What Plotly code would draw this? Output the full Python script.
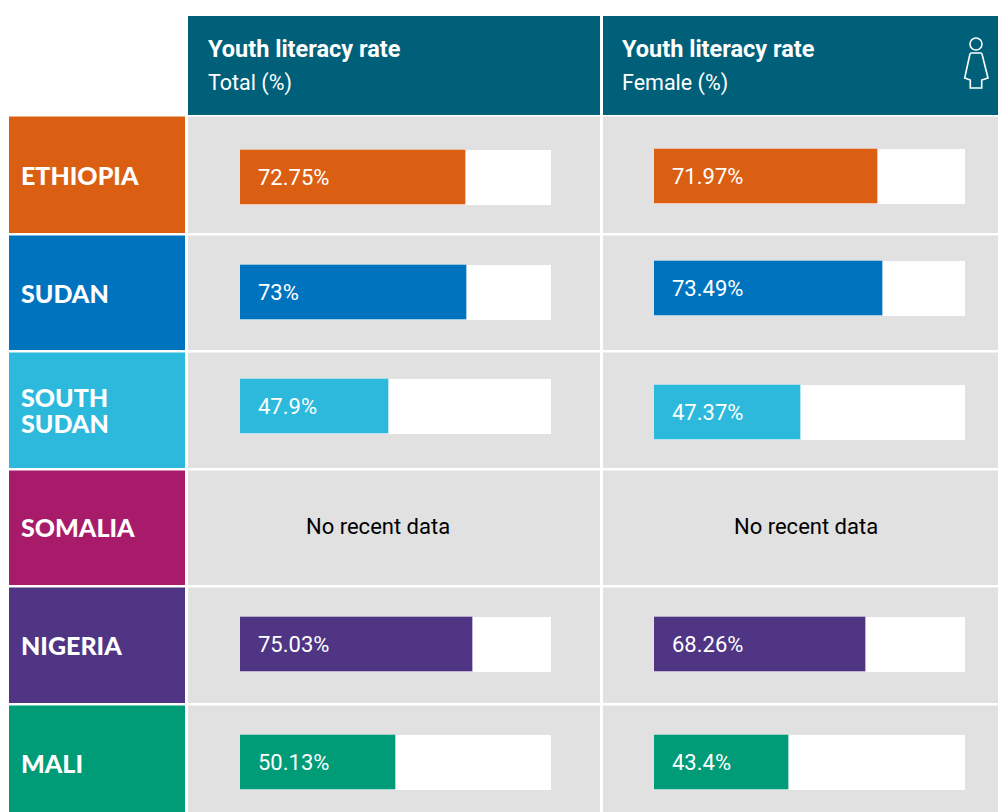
import plotly.graph_objects as go

W, H = 998, 812

# Data
countries = [["ETHIOPIA"], ["SUDAN"], ["SOUTH", "SUDAN"], ["SOMALIA"], ["NIGERIA"], ["MALI"]]
total_values = [72.75, 73, 47.9, None, 75.03, 50.13]
female_values = [71.97, 73.49, 47.37, None, 68.26, 43.4]
total_labels = ["72.75%", "73%", "47.9%", "No recent data", "75.03%", "50.13%"]
female_labels = ["71.97%", "73.49%", "47.37%", "No recent data", "68.26%", "43.4%"]
headers = [("Youth literacy rate", "Total (%)"), ("Youth literacy rate", "Female (%)")]

# Layout and style (pixels)
colors = ["#db5f13", "#0073bf", "#2cb9dc", "#a81b6a", "#4f3583", "#009b77"]
HEADER = "#00607a"
GREY = "#e1e1e1"
row_tops = [116.5, 235.5, 352.5, 470.5, 587.5, 705.5]
row_bottoms = [233, 350, 468, 585, 703, 812]
label_y = [175, 293, 410, 527, 645, 763]
total_y = [177.5, 292.5, 406.5, 526, 644.5, 762.5]
female_y = [176, 288.5, 412.5, 526, 644.5, 762.5]
BAR_H = 55
LINE_GAP = 26
col_left = (188, 600)
col_right = (603, 998)
nodata_x = (378, 806)
FONT = "Roboto"
LABEL_FONT = "Lato"

fig = go.Figure()


def add_bars(values, ys, xa):
    rows = [i for i, v in enumerate(values) if v is not None]
    fig.add_trace(go.Bar(
        x=[100] * len(rows), y=[ys[i] for i in rows], orientation="h",
        width=BAR_H, marker=dict(color="white", line=dict(width=0)),
        xaxis=xa, yaxis="y", hoverinfo="skip", showlegend=False))
    fig.add_trace(go.Bar(
        x=[values[i] for i in rows], y=[ys[i] for i in rows], orientation="h",
        width=BAR_H, marker=dict(color=[colors[i] for i in rows],
                                 line=dict(width=1, color="rgba(255,255,255,0.3)")),
        xaxis=xa, yaxis="y", showlegend=False))


add_bars(total_values, total_y, "x")
add_bars(female_values, female_y, "x2")

shapes = []
annotations = []


def rect(x0, x1, y0, y1, color):
    shapes.append(dict(type="rect", xref="paper", yref="paper",
                       x0=x0 / W, x1=x1 / W, y0=1 - y0 / H, y1=1 - y1 / H,
                       fillcolor=color, line=dict(width=0), layer="below"))


def text(x, y, s, size, color="white", xanchor="left", xref="x3", xshift=0, weight=400, family=FONT):
    annotations.append(dict(x=x, y=y, xref=xref, yref="y", text=s, showarrow=False,
                            xanchor=xanchor, yanchor="middle", xshift=xshift,
                            font=dict(family=family, size=size, color=color, weight=weight)))


for col, hdr, tx in ((col_left, headers[0], 206), (col_right, headers[1], 620)):
    rect(col[0], col[1], 16, 115, HEADER)
    text(tx, 49, hdr[0], 23.5, weight=700)
    text(tx, 83, hdr[1], 21.5)

for i, lines in enumerate(countries):
    rect(9, 185, row_tops[i], row_bottoms[i], colors[i])
    rect(*col_left, row_tops[i], row_bottoms[i], GREY)
    rect(*col_right, row_tops[i], row_bottoms[i], GREY)
    start = label_y[i] - (len(lines) - 1) * LINE_GAP / 2
    for k, line in enumerate(lines):
        text(19, start + k * LINE_GAP, line, 25, weight=900, family=LABEL_FONT)
    if total_values[i] is None:
        text(nodata_x[0], label_y[i] - 1, total_labels[i], 22, color="black", xanchor="center")
        text(nodata_x[1], label_y[i] - 1, female_labels[i], 22, color="black", xanchor="center")
    else:
        text(0, total_y[i], total_labels[i], 22, xref="x", xshift=16)
        text(0, female_y[i], female_labels[i], 22, xref="x2", xshift=16)

# Female icon
shapes.append(dict(type="circle", xref="x3", yref="y", x0=970, x1=982, y0=38, y1=50,
                   line=dict(color="white", width=1.6), layer="above"))
shapes.append(dict(type="path", xref="x3", yref="y",
                   path="M971,53 L981,53 Q982,53 982.5,56 L988,78 L981.7,80 L981.7,88 L970.3,88 L970.3,80 L964.7,78 L969.5,56 Q970,53 971,53 Z",
                   line=dict(color="white", width=1.6), layer="above"))

hidden = dict(visible=False, fixedrange=True)
fig.update_layout(
    width=W, height=H, autosize=False,
    margin=dict(l=0, r=0, t=0, b=0),
    paper_bgcolor="white", plot_bgcolor="rgba(0,0,0,0)",
    barmode="overlay", bargap=0,
    xaxis=dict(domain=[240 / W, 551 / W], range=[0, 100], anchor="y", **hidden),
    xaxis2=dict(domain=[654 / W, 965 / W], range=[0, 100], anchor="y", **hidden),
    xaxis3=dict(domain=[0, 1], range=[0, W], anchor="y", **hidden),
    yaxis=dict(domain=[0, 1], range=[H, 0], **hidden),
    shapes=shapes, annotations=annotations,
)
fig.write_html("out.html", config=dict(displayModeBar=False),
               post_script="document.body.style.margin='0';document.documentElement.style.overflow='hidden';")
